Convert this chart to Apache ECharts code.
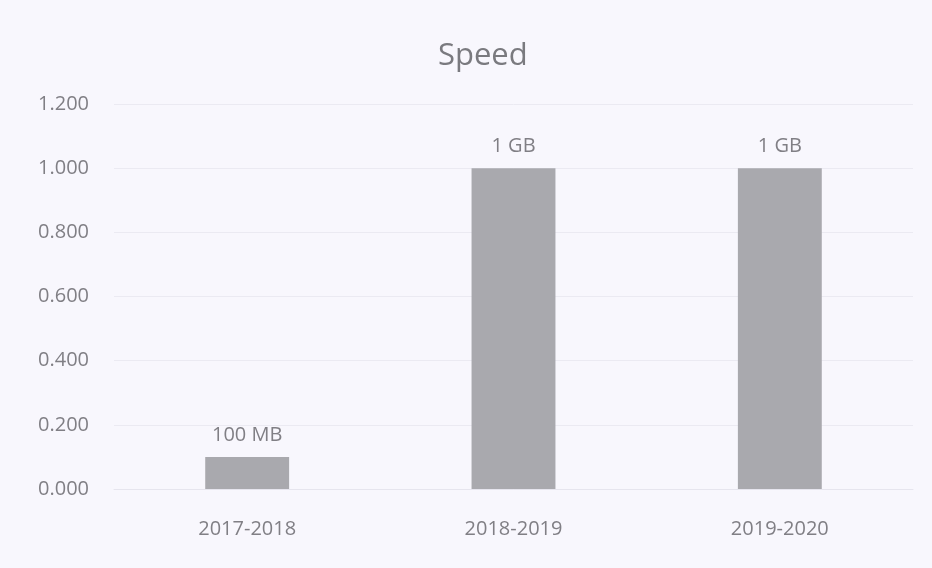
<!DOCTYPE html>
<html>
<head>
<meta charset="utf-8">
<title>Speed</title>
<script src="https://cdn.jsdelivr.net/npm/echarts@6/dist/echarts.min.js"></script>
<style>
  html, body { margin: 0; padding: 0; background: #f8f7fd; }
  #chart { width: 932px; height: 568px; }
</style>
</head>
<body>
<div id="chart"></div>
<script>
const years = ['2017-2018', '2018-2019', '2019-2020']
const speed = [0.1, 1, 1]
const speedLabels = ['100 MB', '1 GB', '1 GB']

const textColor = '#807f85'
const fontFamily = '"Open Sans", "Liberation Sans", sans-serif'

const chart = echarts.init(document.getElementById('chart'))
chart.setOption({
  backgroundColor: '#f8f7fd',
  animation: false,
  title: {
    text: 'Speed',
    left: 433,
    top: 36,
    textStyle: {
      color: '#7a7a7f',
      fontSize: 31,
      fontWeight: 'normal',
      fontFamily
    }
  },
  grid: {
    left: 114,
    right: 19,
    top: 104,
    bottom: 79
  },
  xAxis: {
    type: 'category',
    data: years,
    axisLine: { show: true, lineStyle: { color: '#e6e5ee' } },
    axisTick: { show: false },
    axisLabel: {
      color: textColor,
      fontSize: 20,
      fontFamily,
      margin: 30
    }
  },
  yAxis: {
    type: 'value',
    min: 0,
    max: 1.2,
    interval: 0.2,
    axisLine: { show: false },
    axisTick: { show: false },
    splitLine: { lineStyle: { color: '#ebeaf2' } },
    axisLabel: {
      color: textColor,
      fontSize: 20,
      fontFamily,
      margin: 25,
      formatter: v => v.toFixed(3)
    }
  },
  series: [{
    name: 'Speed',
    type: 'bar',
    barWidth: '31.5%',
    data: speed,
    itemStyle: { color: '#a9a9ae' },
    label: {
      show: true,
      position: 'top',
      distance: 12,
      color: textColor,
      fontSize: 20,
      fontFamily,
      formatter: p => speedLabels[p.dataIndex]
    }
  }]
})
</script>
</body>
</html>
